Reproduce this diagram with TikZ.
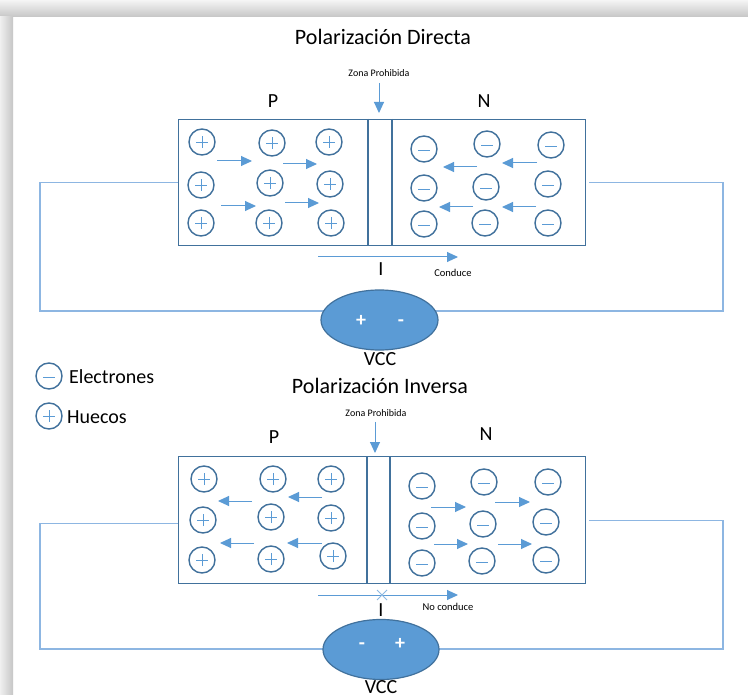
\documentclass[tikz,border=0pt]{standalone}
\usepackage{fontspec}
\setmainfont{Carlito}
\usetikzlibrary{arrows.meta,shapes.geometric}
\definecolor{dkb}{HTML}{41719C}
\definecolor{mdb}{HTML}{5B9BD5}
\definecolor{wr}{HTML}{8DB6E2}
\begin{document}
\begin{tikzpicture}[x=1pt,y=-1pt,
  box/.style={draw=dkb, line width=1.4pt, inner sep=0pt, anchor=north west},
  hole/.style={circle, draw=dkb, line width=1.4pt, minimum size=26pt, inner sep=0pt,
    path picture={\draw[mdb, line width=0.8pt]
      ([xshift=-6pt]path picture bounding box.center) -- ([xshift=6pt]path picture bounding box.center)
      ([yshift=-6pt]path picture bounding box.center) -- ([yshift=6pt]path picture bounding box.center);}},
  elec/.style={circle, draw=dkb, line width=1.4pt, minimum size=26pt, inner sep=0pt,
    path picture={\draw[mdb, line width=0.8pt]
      ([xshift=-6pt,yshift=-1.5pt]path picture bounding box.center) -- ([xshift=6pt,yshift=-1.5pt]path picture bounding box.center);}},
  arr/.style={mdb, line width=1pt, -{Triangle[length=11pt,width=10pt]}},
  wire/.style={wr, line width=1.2pt},
  bat/.style={ellipse, fill=mdb, draw=dkb, line width=1.2pt, inner sep=0pt},
  ttl/.style={font=\fontsize{22}{26}\selectfont, inner sep=0pt},
  lbl/.style={font=\fontsize{20}{23}\selectfont, inner sep=0pt},
  sml/.style={font=\fontsize{10}{12}\selectfont, inner sep=0pt},
  pm/.style={font=\fontsize{20}{22}\selectfont\bfseries, text=white, inner sep=0pt, anchor=base}]
\useasboundingbox (0,0) rectangle (748,695);
\fill[white] (0,0) rectangle (748,695);
% shadow frame
\shade[top color=gray!8, bottom color=gray!45] (0,0) rectangle (748,17);
\shade[left color=gray!12, right color=gray!45] (0,17) rectangle (13,695);

% ================= TOP: Polarizacion Directa =================
\node[ttl] (t1) at (383,37) {Polarización Directa};
\node[sml] (z1) at (379,73) {Zona Prohibida};
\coordinate (z1a) at (379,83);
\coordinate (z1b) at (379,113);
\draw[arr] (z1a) -- (z1b);
\node[lbl] (p1) at (273,101) {P};
\node[lbl] (n1) at (484,101) {N};

\node[box, minimum width=407pt, minimum height=126pt] (boxA) at (178,119) {};
\draw[dkb, line width=1.4pt] (368,119) -- (368,245) (392,119) -- (392,245);

\foreach \x/\y [count=\i] in {202/142,272/143,329/142,201/185,270/183,330/184,201/223,269/223,331/223}
  \node[hole] (hA\i) at (\x,\y) {};
\foreach \x/\y [count=\i] in {424/149,487/144,551/145,424/188,486/187,548/184,424/224,485/223,548/223}
  \node[elec] (eA\i) at (\x,\y) {};

\foreach \a/\b/\c/\d in {217/161/252/161, 283/164/317/164, 221/206/256/206, 285/203/319/203,
                          477/167/443/167, 537/163/502/163, 473/207/439/207, 536/207/502/207}
  \draw[arr] (\a,\b) -- (\c,\d);

\coordinate (iA1) at (318,257);
\coordinate (iA2) at (458,257);
\draw[arr] (iA1) -- (iA2);
\node[lbl] (IA) at (381,269) {I};
\node[sml, font=\fontsize{10.5}{12}\selectfont] (cA) at (453,273) {Conduce};

\coordinate (wA1) at (40,311);
\coordinate (wA2) at (723,311);
\draw[wire] (boxA.west) -| (wA1) -- (379,311);
\draw[wire] ([xshift=3pt]boxA.east) -| (wA2) -- (379,311);
\node[bat, minimum width=117pt, minimum height=60pt] (batA) at (379.5,320) {};
\node[pm] (pA) at (361,327) {+};
\node[pm] (mA) at (401,327) {-};
\node[lbl] (vA) at (380,359) {VCC};

% legend
\node[elec] (le) at (49,376) {};
\node[lbl, anchor=west] (let) at (69,377) {Electrones};
\node[hole] (lh) at (49,416) {};
\node[lbl, anchor=west] (lht) at (67,417) {Huecos};

% ================= BOTTOM: Polarizacion Inversa =================
\node[ttl] (t2) at (380,386) {Polarización Inversa};
\node[sml] (z2) at (376,413) {Zona Prohibida};
\coordinate (z2a) at (375,422);
\coordinate (z2b) at (375,453);
\draw[arr] (z2a) -- (z2b);
\node[lbl] (p2) at (274,437) {P};
\node[lbl] (n2) at (486,434) {N};

\node[box, minimum width=407pt, minimum height=127pt] (boxB) at (178,456) {};
\draw[dkb, line width=1.4pt] (367,456) -- (367,583) (390,456) -- (390,583);

\foreach \x/\y [count=\i] in {204/479,273/479,331/479,203/520,271/517,331/518,202/560,271/559,333/556}
  \node[hole] (hB\i) at (\x,\y) {};
\foreach \x/\y [count=\i] in {422/486,484/482,548/482,422/526,483/524,546/522,422/563,482/561,546/560}
  \node[elec] (eB\i) at (\x,\y) {};

\foreach \a/\b/\c/\d in {252/501/218/501, 322/497/288/497, 254/543/220/543, 322/543/287/543,
                          431/507/466/507, 495/502/530/502, 434/544/468/544, 498/544/532/544}
  \draw[arr] (\a,\b) -- (\c,\d);

\coordinate (iB1) at (318,595);
\coordinate (iB2) at (458,595);
\draw[arr] (iB1) -- (iB2);
\coordinate (xB) at (382,595);
\draw[mdb!70, line width=0.8pt] ([shift={(-5pt,-5pt)}]xB) -- ([shift={(5pt,5pt)}]xB)
                                 ([shift={(-5pt,5pt)}]xB) -- ([shift={(5pt,-5pt)}]xB);
\node[lbl] (IB) at (381,610) {I};
\node[sml, font=\fontsize{10.5}{12}\selectfont] (cB) at (448,607) {No conduce};

\coordinate (wB1) at (40,649);
\coordinate (wB2) at (723,649);
\draw[wire] ([yshift=-3pt]boxB.west) -| (wB1) -- (381,649);
\draw[wire] ([xshift=3pt]boxB.east) -| (wB2) -- (381,649);
\node[bat, minimum width=116pt, minimum height=60pt] (batB) at (381,649.5) {};
\node[pm] (mB) at (362,649) {-};
\node[pm] (pB) at (400,649) {+};
\node[lbl] (vB) at (381,687) {VCC};
\end{tikzpicture}
\end{document}
